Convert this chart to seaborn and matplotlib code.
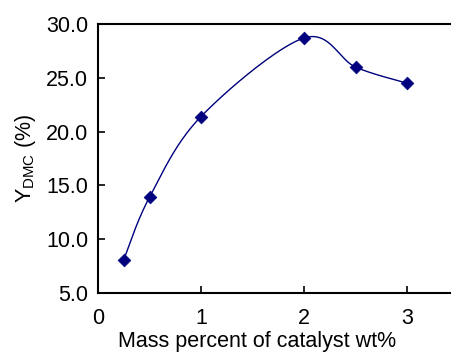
import numpy as np
import pandas as pd
import matplotlib
matplotlib.use("Agg")
import matplotlib.pyplot as plt
import seaborn as sns

# Catalyst loading (wt%) and DMC yield (%)
catalyst_wt = [0.25, 0.5, 1.0, 2.0, 2.5, 3.0]
dmc_yield = [8.1, 13.9, 21.4, 28.7, 26.0, 24.5]
x_ticks = [0, 1, 2, 3]
y_ticks = [5.0, 10.0, 15.0, 20.0, 25.0, 30.0]

sns.set_theme(style="ticks")
plt.rcParams["font.family"] = ["Liberation Sans", "DejaVu Sans"]
plt.rcParams["mathtext.fontset"] = "custom"
plt.rcParams["mathtext.rm"] = "Liberation Sans"
plt.rcParams["mathtext.it"] = "Liberation Sans"
plt.rcParams["text.color"] = "black"
plt.rcParams["axes.labelcolor"] = "black"

df = pd.DataFrame({"wt": catalyst_wt, "yield": dmc_yield})


def smooth_curve(x, y, n=40):
    """Cubic Bezier smoothing through every point (spreadsheet-style smoothed line)."""
    p = np.column_stack([x, y]).astype(float)
    ext = np.vstack([p[0], p, p[-1]])
    out = []
    t = np.linspace(0, 1, n)[:, None]
    for i in range(len(p) - 1):
        p0, p1 = ext[i + 1], ext[i + 2]
        c1 = p0 + (ext[i + 2] - ext[i]) / 6.0
        c2 = p1 - (ext[i + 3] - ext[i + 1]) / 6.0
        seg = ((1 - t) ** 3) * p0 + 3 * ((1 - t) ** 2) * t * c1 + 3 * (1 - t) * t ** 2 * c2 + t ** 3 * p1
        out.append(seg if i == 0 else seg[1:])
    s = np.vstack(out)
    return s[:, 0], s[:, 1]


fig = plt.figure(figsize=(4.52, 3.54), dpi=100)
ax = fig.add_axes([98 / 452, 61 / 354, 360.5 / 452, 269 / 354])

navy = "#00007f"
sx, sy = smooth_curve(df["wt"], df["yield"])
ax.plot(sx, sy, color=navy, lw=1.0, zorder=2)
sns.scatterplot(data=df, x="wt", y="yield", marker="D", s=42, color=navy,
                edgecolor=navy, linewidth=0.5, ax=ax, zorder=3)

ax.set_xlim(0, 3.5)
ax.set_ylim(5, 30)
ax.set_xticks(x_ticks)
ax.set_xticklabels([str(v) for v in x_ticks])
ax.set_yticks(y_ticks)
ax.set_yticklabels([f"{v:.1f}" for v in y_ticks])

ax.tick_params(axis="both", direction="in", length=5, width=1.2, labelsize=15.5,
               colors="black", labelcolor="black")
ax.tick_params(axis="x", pad=11)
ax.tick_params(axis="y", pad=7)
for side in ["left", "bottom", "top", "right"]:
    ax.spines[side].set_linewidth(1.5)
    ax.spines[side].set_color("black")

ax.set_xlabel("Mass percent of catalyst wt%", fontsize=15.5, color="black")
ax.xaxis.set_label_coords(0.441, -0.142)
ax.xaxis.label.set_verticalalignment("top")
ax.set_ylabel(r"Y$_{\mathrm{DMC}}$ (%)", fontsize=15.5, labelpad=6, color="black")

fig.savefig("out.png", dpi=100)
